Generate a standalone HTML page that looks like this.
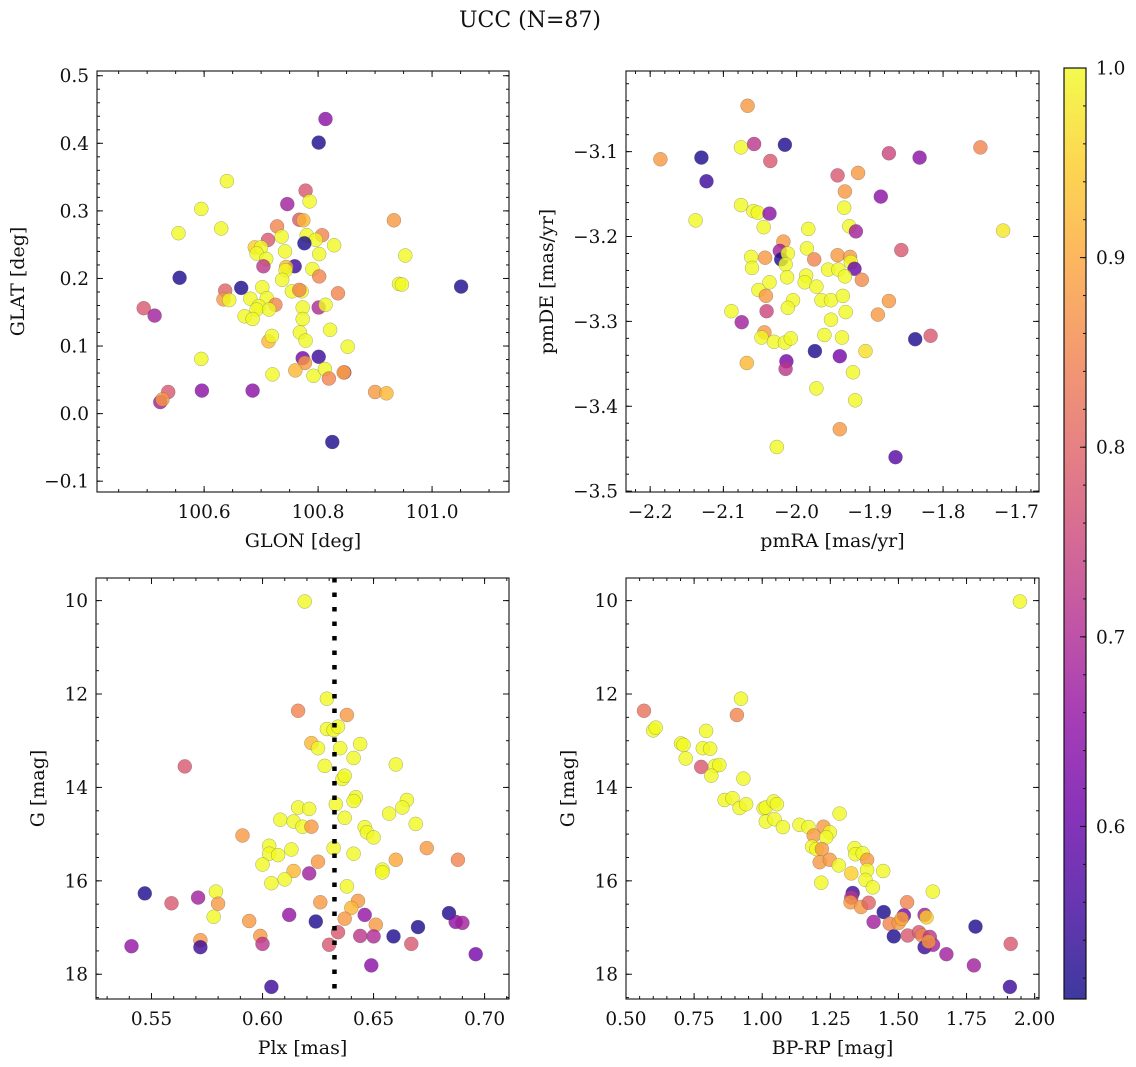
<!DOCTYPE html>
<html><head><meta charset="utf-8"><title>UCC (N=87)</title>
<style>
html,body{margin:0;padding:0;background:#fff;}
svg{display:block;font-family:"DejaVu Serif","Liberation Serif",serif;}
</style></head>
<body>
<svg id="fig" width="1136" height="1067" viewBox="0 0 1136 1067" xmlns="http://www.w3.org/2000/svg">
<text x="530" y="27" text-anchor="middle" font-size="22" fill="#111">UCC (N=87)</text>
</svg>
<script>
// ---- Panel 1: GLON / GLAT ----
const glon=[100.813,100.801,100.640,100.595,100.555,100.630,100.778,100.785,100.746,100.767,100.774,100.728,100.736,100.807,100.780,100.796,100.828,100.776,100.712,100.689,100.700,100.692,100.709,100.742,100.802,100.759,100.744,100.743,100.704,100.790,100.802,100.737,100.557,100.665,100.702,100.754,100.771,100.767,100.835,100.637,100.634,100.644,100.681,100.710,100.725,100.696,100.692,100.714,100.671,100.685,100.801,100.813,100.773,100.773,100.768,100.821,100.778,100.852,100.494,100.513,100.713,100.719,100.595,100.773,100.801,100.777,100.760,100.792,100.812,100.720,100.819,100.846,100.845,100.900,100.920,100.933,100.953,100.942,100.947,101.051,100.537,100.523,100.527,100.596,100.685,100.825];
const glat=[0.436,0.401,0.344,0.303,0.267,0.274,0.330,0.314,0.310,0.287,0.286,0.277,0.262,0.264,0.264,0.257,0.249,0.252,0.257,0.246,0.246,0.237,0.229,0.240,0.236,0.218,0.217,0.212,0.218,0.214,0.203,0.198,0.201,0.186,0.187,0.181,0.181,0.183,0.178,0.182,0.169,0.168,0.170,0.171,0.161,0.159,0.154,0.154,0.144,0.140,0.157,0.161,0.157,0.140,0.120,0.124,0.108,0.099,0.156,0.145,0.107,0.115,0.081,0.082,0.084,0.075,0.064,0.056,0.066,0.058,0.052,0.061,0.061,0.032,0.030,0.286,0.234,0.192,0.191,0.188,0.032,0.017,0.021,0.034,0.034,-0.042];
const probA=[0.65,0.52,1,1,1,1,0.78,1,0.68,0.78,0.92,0.85,1,0.85,1,1,1,0.52,0.78,0.95,1,1,1,1,1,0.55,0.92,1,0.72,1,0.85,1,0.52,0.52,1,1,1,0.85,0.85,0.8,0.88,1,1,1,0.85,1,1,1,1,1,0.7,1,1,1,1,1,1,1,0.78,0.68,0.92,1,1,0.62,0.55,0.88,0.92,1,1,1,0.85,0.72,0.9,0.88,0.92,0.88,1,1,1,0.52,0.78,0.68,0.88,0.65,0.65,0.52];
// ---- Panel 2: pmRA / pmDE ----
const pmra=[-2.067,-2.186,-2.130,-2.123,-2.076,-2.058,-2.016,-2.036,-2.138,-2.076,-2.059,-2.053,-2.037,-2.045,-2.018,-2.023,-2.021,-2.012,-2.015,-2.013,-2.062,-2.061,-2.043,-2.037,-2.052,-2.042,-2.041,-2.089,-2.075,-2.005,-2.012,-1.984,-1.986,-1.987,-1.989,-1.976,-1.973,-1.966,-1.953,-1.957,-1.943,-1.937,-1.933,-1.953,-1.962,-1.938,-2.044,-2.048,-2.031,-2.016,-2.008,-2.068,-2.014,-2.015,-1.975,-1.941,-1.906,-1.923,-1.973,-1.920,-1.941,-2.027,-1.865,-1.944,-1.916,-1.934,-1.935,-1.928,-1.919,-1.944,-1.927,-1.926,-1.921,-1.934,-1.911,-1.885,-1.874,-1.832,-1.857,-1.874,-1.889,-1.838,-1.817,-1.749,-1.718];
const pmde=[-3.046,-3.109,-3.107,-3.135,-3.095,-3.091,-3.092,-3.111,-3.181,-3.163,-3.170,-3.172,-3.173,-3.189,-3.206,-3.217,-3.227,-3.220,-3.233,-3.248,-3.224,-3.237,-3.225,-3.254,-3.263,-3.270,-3.288,-3.288,-3.301,-3.275,-3.284,-3.191,-3.214,-3.246,-3.254,-3.227,-3.259,-3.275,-3.275,-3.239,-3.239,-3.270,-3.289,-3.298,-3.316,-3.319,-3.313,-3.319,-3.324,-3.325,-3.320,-3.349,-3.347,-3.356,-3.335,-3.341,-3.335,-3.360,-3.379,-3.393,-3.427,-3.448,-3.460,-3.128,-3.125,-3.147,-3.166,-3.188,-3.194,-3.222,-3.224,-3.230,-3.238,-3.247,-3.251,-3.153,-3.102,-3.107,-3.216,-3.276,-3.292,-3.321,-3.317,-3.095,-3.193];
const probB=[0.88,0.88,0.52,0.55,1,0.72,0.52,0.78,1,1,1,1,0.65,1,0.88,0.68,0.52,1,1,1,1,1,0.88,1,1,0.88,0.75,1,0.68,1,1,1,1,1,1,0.85,1,1,1,1,1,1,1,1,1,1,0.88,1,1,1,1,0.92,0.62,0.72,0.52,0.62,0.97,1,1,1,0.88,1,0.58,0.78,0.88,0.88,1,1,0.68,0.88,0.88,1,0.6,1,0.86,0.65,0.75,0.65,0.78,0.88,0.88,0.52,0.78,0.85,0.98];
// ---- Panel 3: Plx / G ----
const plx=[0.619,0.629,0.616,0.638,0.629,0.632,0.634,0.622,0.625,0.635,0.644,0.641,0.628,0.660,0.565,0.636,0.637,0.642,0.641,0.633,0.616,0.621,0.665,0.663,0.657,0.637,0.608,0.614,0.618,0.622,0.646,0.647,0.650,0.669,0.591,0.603,0.603,0.607,0.613,0.632,0.641,0.674,0.660,0.625,0.600,0.654,0.654,0.688,0.614,0.621,0.610,0.604,0.638,0.579,0.547,0.571,0.559,0.580,0.626,0.643,0.640,0.578,0.594,0.612,0.624,0.637,0.646,0.651,0.684,0.687,0.690,0.670,0.634,0.572,0.572,0.541,0.599,0.600,0.630,0.644,0.650,0.659,0.667,0.696,0.649,0.604];
const gmagA=[10.02,12.10,12.36,12.45,12.75,12.77,12.70,13.05,13.16,13.16,13.07,13.37,13.54,13.51,13.55,13.82,13.75,14.21,14.29,14.36,14.43,14.46,14.27,14.43,14.56,14.65,14.69,14.73,14.84,14.84,14.85,14.96,15.07,14.78,15.03,15.25,15.42,15.45,15.33,15.30,15.42,15.30,15.55,15.59,15.65,15.76,15.82,15.55,15.79,15.84,15.97,16.05,16.12,16.23,16.27,16.36,16.48,16.49,16.46,16.43,16.58,16.77,16.86,16.73,16.87,16.81,16.73,16.94,16.69,16.88,16.90,16.99,17.10,17.27,17.42,17.40,17.18,17.35,17.37,17.18,17.19,17.19,17.35,17.57,17.81,18.27];
const probC=[1,1,0.85,0.88,1,1,1,0.92,1,1,1,1,1,1,0.78,1,1,1,1,1,1,1,1,1,1,1,1,1,1,0.88,1,1,1,1,0.88,1,1,1,1,1,1,0.88,0.9,0.88,1,1,1,0.85,0.92,0.68,1,1,1,1,0.52,0.68,0.78,0.88,0.88,0.88,0.92,1,0.88,0.66,0.52,0.88,0.66,0.88,0.52,0.65,0.68,0.52,0.78,0.88,0.55,0.66,0.88,0.72,0.78,0.72,0.7,0.52,0.78,0.62,0.65,0.55];
const plxMean=[0.6324];
// ---- Panel 4: BP-RP / G ----
const bprp=[1.946,0.566,0.922,0.907,0.600,0.609,0.794,0.702,0.711,0.719,0.782,0.809,0.776,0.827,0.843,0.813,0.931,0.862,0.891,0.917,0.941,1.005,1.013,1.042,1.054,1.013,1.045,1.076,1.137,1.170,1.284,1.225,1.248,1.189,1.235,1.183,1.199,1.219,1.211,1.248,1.281,1.217,1.339,1.342,1.369,1.385,1.385,1.327,1.444,1.379,1.406,1.626,1.332,1.327,1.324,1.363,1.391,1.532,1.446,1.409,1.468,1.501,1.520,1.512,1.596,1.603,1.483,1.534,1.575,1.587,1.615,1.596,1.627,1.611,1.676,1.783,1.777,1.912,1.909];
const gmagB=[10.02,12.36,12.10,12.45,12.78,12.72,12.79,13.06,13.09,13.38,13.16,13.17,13.56,13.54,13.52,13.75,13.81,14.27,14.23,14.44,14.36,14.45,14.43,14.30,14.36,14.73,14.68,14.85,14.80,14.85,14.56,14.84,14.96,15.03,15.07,15.27,15.32,15.32,15.60,15.55,15.67,16.04,15.30,15.43,15.41,15.55,15.77,15.84,15.79,15.98,16.14,16.23,16.26,16.36,16.46,16.56,16.47,16.46,16.67,16.88,16.92,16.90,16.74,16.81,16.73,16.78,17.19,17.17,17.10,17.17,17.20,17.42,17.37,17.30,17.57,16.98,17.81,17.35,18.27];
const probD=[1,0.82,1,0.85,1,1,1,1,1,1,1,1,0.78,1,1,1,1,1,1,1,1,1,1,1,1,1,1,1,1,1,1,0.88,1,0.88,1,1,1,0.88,0.88,0.88,1,1,1,1,1,0.88,1,0.95,1,1,1,1,0.55,0.72,0.88,0.88,0.8,0.85,0.52,0.68,0.85,0.88,0.62,0.9,0.68,0.95,0.52,0.78,0.78,0.85,0.72,0.55,0.68,0.88,0.68,0.52,0.68,0.78,0.55];
// colorbar
const cbTicks=[0.6,0.7,0.8,0.9,1.0];
const cbMin=0.509, cbMax=1.0;

const NS='http://www.w3.org/2000/svg';
const svg=document.getElementById('fig');
const TICK_FS=18.5, TITLE_FS=19;
const plasma=[[0,'#0d0887'],[0.1,'#41049d'],[0.2,'#6a00a8'],[0.3,'#8f0da4'],[0.4,'#b12a90'],[0.5,'#cc4778'],[0.6,'#e16462'],[0.7,'#f2844b'],[0.8,'#fca636'],[0.9,'#fcce25'],[1,'#f0f921']];
function hex(h){return [parseInt(h.substr(1,2),16),parseInt(h.substr(3,2),16),parseInt(h.substr(5,2),16)];}
function cmap(p){
  let t=(p-cbMin)/(cbMax-cbMin); t=Math.max(0,Math.min(1,t));
  for(let i=0;i<plasma.length-1;i++){
    const [a,ca]=plasma[i],[b,cb]=plasma[i+1];
    if(t<=b){const f=(t-a)/(b-a);const A=hex(ca),B=hex(cb);
      return 'rgb('+A.map((v,k)=>Math.round(v+(B[k]-v)*f)).join(',')+')';}
  }
  return plasma[plasma.length-1][1];
}
function el(tag,attrs,parent){const e=document.createElementNS(NS,tag);for(const k in attrs)e.setAttribute(k,attrs[k]);(parent||svg).appendChild(e);return e;}
function fmt(v,d){const s=Math.abs(v).toFixed(d);return (v<-1e-9?'\u2212':'')+s;}

function panel(c){
  const g=el('g',{});
  
  
  const X=v=>c.x0+(v-c.xr[0])/(c.xr[1]-c.xr[0])*(c.x1-c.x0);
  const Y=v=>c.y0+(v-c.yr[0])/(c.yr[1]-c.yr[0])*(c.y1-c.y0);
  const pg=el('g',{},g);
  
  
  for(let i=0;i<c.xs.length;i++){
    const pt=el('circle',{cx:X(c.xs[i]).toFixed(1),cy:Y(c.ys[i]).toFixed(1),r:7,fill:cmap(c.ps[i]),'fill-opacity':0.8,stroke:'#555','stroke-opacity':0.5,'stroke-width':0.5},pg);
    
    
  }
  if(c.vline){
    const vl=el('line',{x1:X(c.vline[0]),x2:X(c.vline[0]),y1:c.y0,y2:c.y1,stroke:'#000','stroke-width':4.5,'stroke-dasharray':'4.5 10'},g);
    
    
  }
  const fr=el('rect',{x:c.x0,y:c.y0,width:c.x1-c.x0,height:c.y1-c.y0,fill:'none',stroke:'#111','stroke-width':1.1},g);
  
  
  const tk=el('g',{stroke:'#111','stroke-width':1},g);
  
  
  const xlo=Math.min(...c.xr),xhi=Math.max(...c.xr),ylo=Math.min(...c.yr),yhi=Math.max(...c.yr);
  for(let v=Math.ceil(xlo/c.xMin-1e-6)*c.xMin;v<=xhi;v+=c.xMin){const x=X(v);el('line',{x1:x,x2:x,y1:c.y1,y2:c.y1-3},tk);el('line',{x1:x,x2:x,y1:c.y0,y2:c.y0+3},tk);}
  for(let v=Math.ceil(ylo/c.yMin-1e-6)*c.yMin;v<=yhi;v+=c.yMin){const y=Y(v);el('line',{x1:c.x0,x2:c.x0+3,y1:y,y2:y},tk);el('line',{x1:c.x1,x2:c.x1-3,y1:y,y2:y},tk);}
  const tl=el('g',{'font-size':TICK_FS,fill:'#111'},g);
  
  
  c.xMaj.forEach(v=>{const x=X(v);el('line',{x1:x,x2:x,y1:c.y1,y2:c.y1-6},tk);el('line',{x1:x,x2:x,y1:c.y0,y2:c.y0+6},tk);
    const t=el('text',{x:x,y:c.y1+26,'text-anchor':'middle'},tl);t.textContent=fmt(v,c.xd);});
  c.yMaj.forEach(v=>{const y=Y(v);el('line',{x1:c.x0,x2:c.x0+6,y1:y,y2:y},tk);el('line',{x1:c.x1,x2:c.x1-6,y1:y,y2:y},tk);
    const t=el('text',{x:c.x0-8,y:y+6.5,'text-anchor':'end'},tl);t.textContent=fmt(v,c.yd);});
  const xt=el('text',{x:(c.x0+c.x1)/2,y:c.y1+55,'text-anchor':'middle','font-size':TITLE_FS,fill:'#111'},g);
  xt.textContent=c.xTitle;
  
  
  const yc=(c.y0+c.y1)/2;
  const yt=el('text',{x:c.yTitleX,y:yc,'text-anchor':'middle','font-size':TITLE_FS,fill:'#111',transform:'rotate(-90 '+c.yTitleX+' '+yc+')'},g);
  yt.textContent=c.yTitle;
  
  
}

panel({name:'glon-glat-panel',x0:97,x1:509,y0:71,y1:492,xr:[100.412,101.135],yr:[0.507,-0.116],xs:glon,ys:glat,ps:probA,
  xMaj:[100.6,100.8,101.0],xMin:0.05,xd:1,yMaj:[-0.1,0,0.1,0.2,0.3,0.4,0.5],yMin:0.02,yd:1,xTitle:'GLON [deg]',yTitle:'GLAT [deg]',yTitleX:24});
panel({name:'pm-panel',x0:626,x1:1039,y0:71,y1:492,xr:[-2.233,-1.669],yr:[-3.005,-3.501],xs:pmra,ys:pmde,ps:probB,
  xMaj:[-2.2,-2.1,-2.0,-1.9,-1.8,-1.7],xMin:0.02,xd:1,yMaj:[-3.1,-3.2,-3.3,-3.4,-3.5],yMin:0.02,yd:1,xTitle:'pmRA [mas/yr]',yTitle:'pmDE [mas/yr]',yTitleX:553});
panel({name:'plx-g-panel',x0:96,x1:509,y0:578,y1:999,xr:[0.525,0.711],yr:[9.516,18.53],xs:plx,ys:gmagA,ps:probC,vline:plxMean,
  xMaj:[0.55,0.6,0.65,0.7],xMin:0.01,xd:2,yMaj:[10,12,14,16,18],yMin:0.5,yd:0,xTitle:'Plx [mas]',yTitle:'G [mag]',yTitleX:44});
panel({name:'cmd-panel',x0:626,x1:1039,y0:578,y1:999,xr:[0.50,2.016],yr:[9.516,18.53],xs:bprp,ys:gmagB,ps:probD,
  xMaj:[0.5,0.75,1.0,1.25,1.5,1.75,2.0],xMin:0.05,xd:2,yMaj:[10,12,14,16,18],yMin:0.5,yd:0,xTitle:'BP-RP [mag]',yTitle:'G [mag]',yTitleX:574});

(function(){
  const cx0=1064,cx1=1086,cy0=68,cy1=999;
  const defs=el('defs',{});
  const lg=el('linearGradient',{id:'cbg',x1:0,y1:1,x2:0,y2:0},defs);
  plasma.forEach(([o,c])=>el('stop',{offset:o,'stop-color':c,'stop-opacity':0.8},lg));
  const cb=el('g',{});
  
  
  el('rect',{x:cx0,y:cy0,width:cx1-cx0,height:cy1-cy0,fill:'url(#cbg)',stroke:'#111','stroke-width':1.2},cb);
  const Y=v=>cy0+(cbMax-v)/(cbMax-cbMin)*(cy1-cy0);
  for(let v=0.52;v<=1.0001;v+=0.02){const y=Y(v);el('line',{x1:cx1,x2:cx1-3,y1:y,y2:y,stroke:'#111'},cb);}
  cbTicks.forEach(v=>{const y=Y(v);el('line',{x1:cx1,x2:cx1-6,y1:y,y2:y,stroke:'#111'},cb);
    const t=el('text',{x:cx1+10,y:y+6.5,'font-size':TICK_FS,fill:'#111'},cb);t.textContent=v.toFixed(1);
    
    });
})();
</script>
</body></html>
